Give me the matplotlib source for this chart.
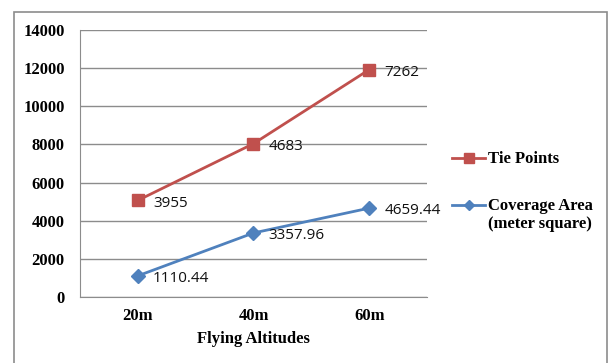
import numpy as np
import matplotlib.pyplot as plt
from matplotlib.patches import Rectangle
from matplotlib.lines import Line2D

altitudes = ['20m', '40m', '60m']
coverage_area = [1110.44, 3357.96, 4659.44]
tie_points = [3955, 4683, 7262]

RED = '#C0504D'
BLUE = '#4F81BD'
SERIF = 'Liberation Serif'
SANS = 'Open Sans'

fig = plt.figure(figsize=(6.11, 3.63), dpi=100)
fig.patches.append(Rectangle((14 / 611, -0.05), 593 / 611, 1 - 12 / 363 + 0.05,
                             transform=fig.transFigure, fill=False,
                             edgecolor='#8C8C8C', linewidth=1.2))
ax = fig.add_axes([80 / 611, 66 / 363, 347 / 611, 267 / 363])

x = np.arange(len(altitudes))
# stacked lines: tie points sit on top of coverage area
cov = np.array(coverage_area)
tie_stack = cov + np.array(tie_points)

ax.plot(x, tie_stack, color=RED, lw=2, marker='s', ms=9, mec=RED, zorder=3)
ax.plot(x, cov, color=BLUE, lw=2, marker='D', ms=7, mec=BLUE, zorder=3)

for xi, yi, v in zip(x, tie_stack, tie_points):
    ax.annotate(f'{v}', (xi, yi), xytext=(11, -2), textcoords='offset points',
                va='center', ha='left', fontsize=11, family=SANS, color='#111111')
for xi, yi, v in zip(x, cov, coverage_area):
    ax.annotate(f'{v:.2f}', (xi, yi), xytext=(11, -2), textcoords='offset points',
                va='center', ha='left', fontsize=11, family=SANS, color='#111111')

ax.set_xlim(-0.5, 2.5)
ax.set_ylim(0, 14000)
ax.set_yticks(np.arange(0, 14001, 2000))
ax.set_xticks(x)
ax.set_xticklabels(altitudes)
ax.yaxis.grid(True, color='#8C8C8C', lw=1)
ax.set_axisbelow(True)
for s in ['top', 'right']:
    ax.spines[s].set_visible(False)
for s in ['left', 'bottom']:
    ax.spines[s].set_color('#8C8C8C')
ax.tick_params(axis='y', length=0, pad=11)
ax.tick_params(axis='x', length=0, pad=8)
for lab in ax.get_xticklabels() + ax.get_yticklabels():
    lab.set_family(SERIF)
    lab.set_fontweight('bold')
    lab.set_fontsize(12)
ax.set_xlabel('Flying Altitudes', family=SERIF, fontweight='bold', fontsize=12, labelpad=5)

# legend drawn by hand so the handle lines up with the first text line
legend_items = [('Tie Points', RED, 's', 7, 158),
                ('Coverage Area\n(meter square)', BLUE, 'D', 5, 205)]
for text, col, mk, ms, ypix in legend_items:
    yf = 1 - ypix / 363
    fig.add_artist(Line2D([452 / 611, 485 / 611], [yf, yf], transform=fig.transFigure,
                          color=col, lw=2))
    fig.add_artist(Line2D([468.5 / 611], [yf], transform=fig.transFigure,
                          color=col, marker=mk, ms=ms, mec=col, lw=0))
    fig.text(488 / 611, yf + 6.5 / 363, text, family=SERIF, fontweight='bold', fontsize=12,
             va='top', ha='left', linespacing=1.15)

fig.savefig('out.png', dpi=100)
